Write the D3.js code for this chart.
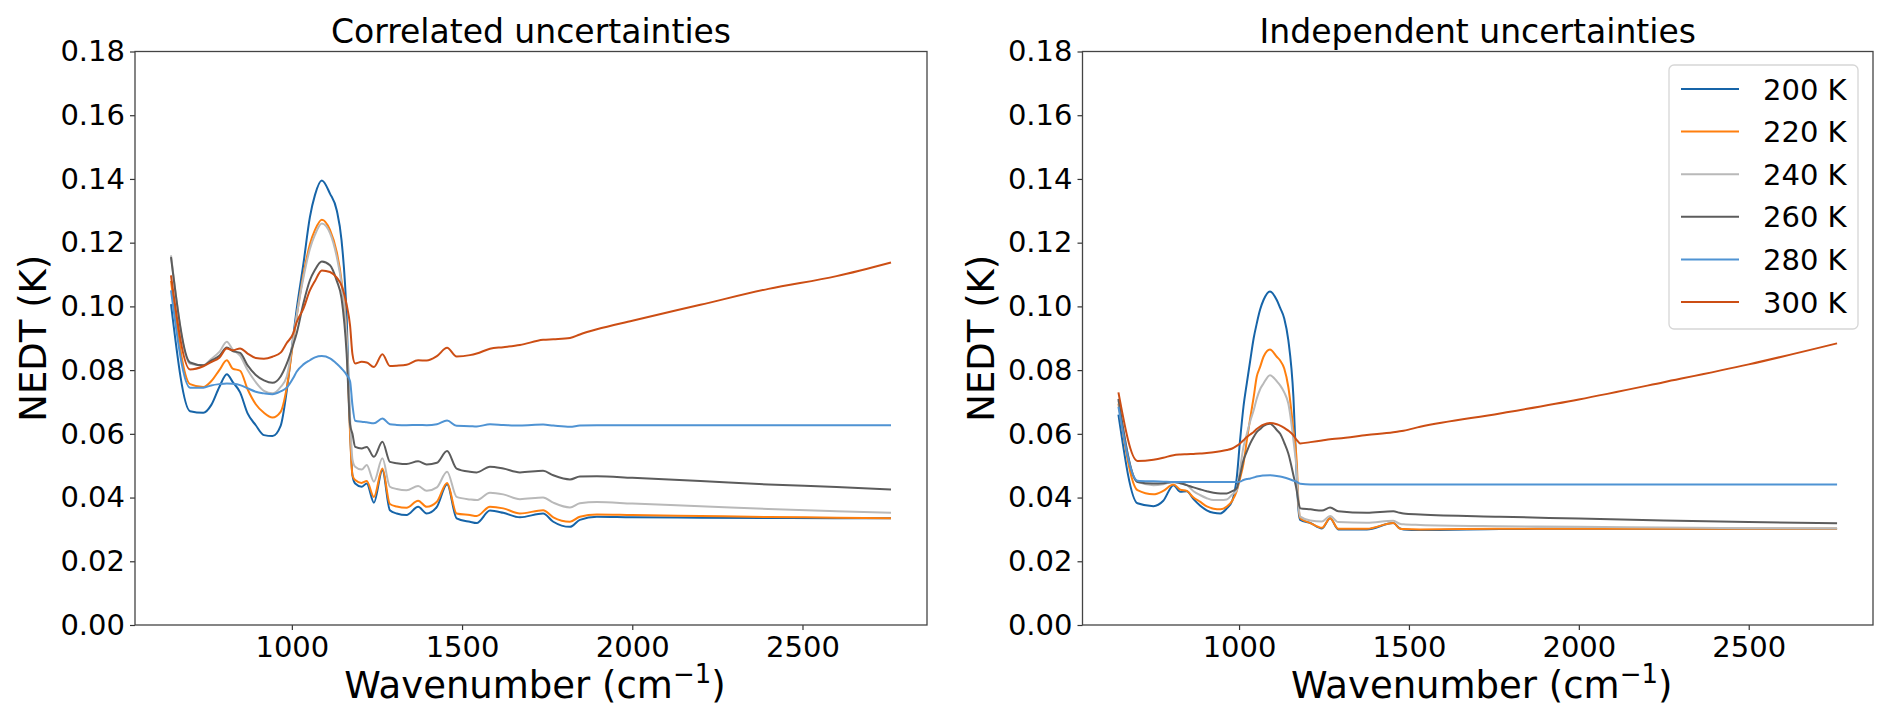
<!DOCTYPE html>
<html>
<head>
<meta charset="utf-8">
<script src="https://cdn.jsdelivr.net/npm/d3@7"></script>
<style>
  body { margin: 0; background: #fff; }
  svg { display: block; font-family: "DejaVu Sans", sans-serif; }
</style>
</head>
<body>
<svg id="chart" width="1892" height="722"></svg>
<script>
// temperatures shown in the legend
const temps = ["200 K", "220 K", "240 K", "260 K", "280 K", "300 K"];
const colors = ["#1664a8", "#ff7f0e", "#b9b9b9", "#5c5c5c", "#4f93d3", "#cc4e14"];

// wavenumber grid, correlated panel
const wnCorr = [645, 701, 740, 763, 787, 809, 826, 848, 870, 894, 918, 943, 967, 985, 1004, 1014, 1034, 1053, 1068, 1088,
  1112, 1132, 1146, 1161, 1171, 1178, 1186, 1205, 1220, 1241, 1266, 1288, 1308, 1337, 1371, 1396, 1426, 1456, 1484, 1523,
  1543, 1582, 1621, 1670, 1738, 1768, 1817, 1846, 1896, 2000, 2200, 2400, 2600, 2760];

const corr200 = [0.1007, 0.0671, 0.0666, 0.069, 0.0747, 0.0787, 0.0763, 0.073, 0.0664, 0.0627, 0.0596, 0.0593, 0.0625, 0.0735, 0.0905, 0.099, 0.1134, 0.128, 0.135, 0.1395,
  0.1354, 0.1301, 0.1207, 0.0967, 0.0612, 0.047, 0.0444, 0.0434, 0.0444, 0.0384, 0.0486, 0.036, 0.035, 0.0345, 0.0371, 0.035, 0.0371, 0.0442, 0.0335, 0.0324,
  0.032, 0.0359, 0.0352, 0.0338, 0.035, 0.0324, 0.0308, 0.033, 0.034, 0.0338, 0.0337, 0.0336, 0.0335, 0.0335];
const corr220 = [0.108, 0.0756, 0.0747, 0.0765, 0.08, 0.0831, 0.0805, 0.0798, 0.074, 0.0693, 0.0666, 0.0651, 0.0669, 0.0745, 0.089, 0.0967, 0.110, 0.1195, 0.124, 0.1272,
  0.124, 0.117, 0.108, 0.090, 0.060, 0.047, 0.0455, 0.0446, 0.0452, 0.0402, 0.0491, 0.038, 0.0372, 0.0368, 0.039, 0.0371, 0.0387, 0.0446, 0.035, 0.0345,
  0.0342, 0.0371, 0.0366, 0.035, 0.036, 0.0338, 0.0324, 0.034, 0.0347, 0.0345, 0.0342, 0.0339, 0.0337, 0.0335];
const corr240 = [0.116, 0.082, 0.0815, 0.0835, 0.0857, 0.0889, 0.0865, 0.0845, 0.080, 0.0762, 0.0735, 0.0727, 0.0747, 0.078, 0.090, 0.097, 0.109, 0.118, 0.1225, 0.126,
  0.123, 0.1155, 0.107, 0.090, 0.065, 0.052, 0.0497, 0.0488, 0.0502, 0.045, 0.0523, 0.0434, 0.0427, 0.0423, 0.0436, 0.0421, 0.0432, 0.0481, 0.0402, 0.0394,
  0.0392, 0.0415, 0.041, 0.0395, 0.040, 0.0384, 0.0369, 0.0382, 0.0386, 0.0381, 0.0373, 0.0364, 0.0357, 0.0352];
const corr260 = [0.1155, 0.0824, 0.0815, 0.083, 0.0845, 0.0871, 0.086, 0.0854, 0.0815, 0.0785, 0.0768, 0.076, 0.078, 0.082, 0.088, 0.0915, 0.101, 0.1082, 0.1115, 0.1141,
  0.1129, 0.108, 0.1025, 0.085, 0.063, 0.060, 0.0559, 0.0554, 0.0559, 0.0528, 0.0575, 0.0512, 0.0508, 0.0505, 0.0514, 0.0504, 0.0509, 0.0546, 0.0491, 0.0481,
  0.0479, 0.0497, 0.0491, 0.0479, 0.0484, 0.047, 0.0457, 0.0466, 0.0467, 0.0462, 0.0452, 0.0441, 0.0433, 0.0425];
const corr280 = [0.105, 0.0745, 0.0745, 0.0752, 0.0756, 0.0758, 0.0757, 0.0753, 0.0743, 0.0732, 0.0727, 0.0724, 0.0733, 0.0745, 0.0775, 0.0795, 0.0818, 0.0831, 0.084, 0.0844,
  0.0837, 0.082, 0.0805, 0.0785, 0.0765, 0.069, 0.0641, 0.0638, 0.0636, 0.0633, 0.0648, 0.063, 0.0628, 0.0627, 0.0628, 0.0627, 0.063, 0.0642, 0.0625, 0.0624,
  0.0623, 0.063, 0.0628, 0.0626, 0.0629, 0.0626, 0.0622, 0.0626, 0.0627, 0.0627, 0.0627, 0.0627, 0.0627, 0.0627];
const corr300 = [0.1097, 0.0802, 0.0812, 0.0825, 0.0839, 0.0868, 0.0862, 0.0868, 0.0852, 0.0838, 0.0836, 0.0842, 0.0855, 0.0885, 0.0915, 0.095, 0.0993, 0.105, 0.108, 0.1113,
  0.1108, 0.109, 0.1065, 0.1005, 0.094, 0.085, 0.0821, 0.0826, 0.0824, 0.081, 0.085, 0.0813, 0.0814, 0.0817, 0.0831, 0.083, 0.0844, 0.087, 0.0843, 0.0847,
  0.0852, 0.0867, 0.0872, 0.0879, 0.0895, 0.0897, 0.0901, 0.0912, 0.0928, 0.0955, 0.1005, 0.1055, 0.1095, 0.1138];

// wavenumber grid, independent panel
const wnInd = [645, 701, 748, 777, 807, 827, 846, 866, 885, 905, 925, 945, 964, 980, 993, 1003, 1013, 1023, 1033, 1043,
  1052, 1062, 1072, 1091, 1111, 1121, 1133, 1145, 1160, 1170, 1175, 1180, 1210, 1244, 1268, 1292, 1376, 1454, 1473, 1484,
  1533, 1768, 2000, 2250, 2500, 2760];

const ind200 = [0.066, 0.0382, 0.0373, 0.039, 0.0439, 0.0418, 0.042, 0.0395, 0.0375, 0.036, 0.0352, 0.035, 0.0366, 0.039, 0.046, 0.058, 0.0685, 0.076, 0.0831, 0.090,
  0.0946, 0.099, 0.102, 0.1047, 0.102, 0.0995, 0.0962, 0.0894, 0.0716, 0.046, 0.036, 0.033, 0.032, 0.0303, 0.0335, 0.030, 0.030, 0.032, 0.0303, 0.030,
  0.0298, 0.0301, 0.0302, 0.0302, 0.0302, 0.0302];
const ind220 = [0.0695, 0.0423, 0.041, 0.0421, 0.0441, 0.0425, 0.0421, 0.040, 0.0387, 0.0372, 0.0365, 0.0363, 0.0372, 0.039, 0.042, 0.046, 0.0507, 0.058, 0.065, 0.0715,
  0.0779, 0.081, 0.0842, 0.0865, 0.0842, 0.083, 0.0805, 0.0747, 0.0612, 0.0507, 0.038, 0.0335, 0.032, 0.0305, 0.0335, 0.0302, 0.0302, 0.032, 0.0303, 0.0301,
  0.030, 0.0302, 0.0302, 0.0302, 0.0302, 0.0302];
const ind240 = [0.0705, 0.0449, 0.0439, 0.0442, 0.0449, 0.0445, 0.0439, 0.042, 0.0408, 0.0398, 0.0392, 0.0392, 0.0394, 0.041, 0.0423, 0.049, 0.0559, 0.060, 0.064, 0.0674,
  0.071, 0.074, 0.0758, 0.0784, 0.0765, 0.0752, 0.073, 0.0695, 0.058, 0.0476, 0.038, 0.034, 0.0328, 0.0325, 0.0342, 0.0323, 0.0321, 0.0327, 0.0318, 0.0316,
  0.0314, 0.031, 0.0308, 0.0306, 0.0304, 0.0303];
const ind260 = [0.071, 0.0449, 0.0444, 0.0445, 0.0449, 0.0445, 0.0439, 0.0432, 0.0426, 0.042, 0.0415, 0.0413, 0.0413, 0.042, 0.0429, 0.047, 0.0517, 0.0545, 0.057, 0.059,
  0.0605, 0.0615, 0.0625, 0.0632, 0.0612, 0.060, 0.0572, 0.0538, 0.047, 0.042, 0.0385, 0.0366, 0.0363, 0.0359, 0.0369, 0.0357, 0.0352, 0.0357, 0.0352, 0.035,
  0.0347, 0.034, 0.0334, 0.0328, 0.0323, 0.0319];
const ind280 = [0.0685, 0.0453, 0.0451, 0.045, 0.0449, 0.0449, 0.0449, 0.0449, 0.0449, 0.0449, 0.0449, 0.0449, 0.0449, 0.0449, 0.0449, 0.045, 0.0455, 0.0458, 0.046, 0.0463,
  0.0466, 0.0468, 0.0469, 0.047, 0.0468, 0.0466, 0.0463, 0.0459, 0.0453, 0.0449, 0.0446, 0.0443, 0.0441, 0.0441, 0.0441, 0.0441, 0.0441, 0.0441, 0.0441, 0.0441,
  0.0441, 0.0441, 0.0441, 0.0441, 0.0441, 0.0441];
const ind300 = [0.073, 0.0515, 0.0519, 0.0525, 0.0533, 0.0535, 0.0536, 0.0537, 0.0538, 0.054, 0.0542, 0.0545, 0.0549, 0.0554, 0.0562, 0.057, 0.058, 0.059, 0.0598, 0.0606,
  0.0615, 0.0623, 0.0629, 0.0634, 0.063, 0.0626, 0.0619, 0.061, 0.0595, 0.058, 0.0574, 0.057, 0.0574, 0.0579, 0.0583, 0.0585, 0.0596, 0.0605, 0.0608, 0.061,
  0.0622, 0.0664, 0.0708, 0.0762, 0.0818, 0.0884];

const xTicks = [1000, 1500, 2000, 2500];
const yTicks = [0, 0.02, 0.04, 0.06, 0.08, 0.10, 0.12, 0.14, 0.16, 0.18];

const panels = [
    {title: "Correlated uncertainties", wn: wnCorr, series: [corr200, corr220, corr240, corr260, corr280, corr300], left: 135, right: 927, legend: false},
    {title: "Independent uncertainties", wn: wnInd, series: [ind200, ind220, ind240, ind260, ind280, ind300], left: 1082.5, right: 1873, legend: true}
];

const plotTop = 51.5, plotBottom = 625;
const svg = d3.select("#chart");

panels.forEach(function (p) {
    // matplotlib style 5% margin around the data range
    var span = 2760 - 645;
    var x = d3.scaleLinear()
        .domain([645 - 0.05 * span, 2760 + 0.05 * span])
        .range([p.left, p.right]);
    var y = d3.scaleLinear()
        .domain([0, 0.18])
        .range([plotBottom, plotTop]);

    var g = svg.append("g");

    // lines
    var line = d3.line()
        .x(function (d) { return x(d[0]); })
        .y(function (d) { return y(d[1]); })
        .curve(d3.curveMonotoneX);

    p.series.forEach(function (vals, i) {
        g.append("path")
            .datum(p.wn.map(function (w, j) { return [w, vals[j]]; }))
            .attr("fill", "none")
            .attr("stroke", colors[i])
            .attr("stroke-width", 2)
            .attr("stroke-linejoin", "round")
            .attr("d", line);
    });

    // x axis
    var xAxis = d3.axisBottom(x).tickValues(xTicks).tickFormat(d3.format("d")).tickSize(5).tickPadding(6).tickSizeOuter(0);
    var gx = g.append("g")
        .attr("transform", "translate(0," + plotBottom + ")")
        .call(xAxis);
    // y axis
    var yAxis = d3.axisLeft(y).tickValues(yTicks).tickFormat(d3.format(".2f")).tickSize(5).tickPadding(5).tickSizeOuter(0);
    var gy = g.append("g")
        .attr("transform", "translate(" + p.left + ",0)")
        .call(yAxis);

    [gx, gy].forEach(function (a) {
        a.select(".domain").remove();
        a.selectAll(".tick line").attr("stroke", "#333").attr("stroke-width", 1.2);
        a.selectAll(".tick text")
            .attr("fill", "#000")
            .style("font-family", "DejaVu Sans")
            .style("font-size", "29px");
    });

    // frame
    g.append("rect")
        .attr("x", p.left)
        .attr("y", plotTop)
        .attr("width", p.right - p.left)
        .attr("height", plotBottom - plotTop)
        .attr("fill", "none")
        .attr("stroke", "#444")
        .attr("stroke-width", 1.3);

    var cx = (p.left + p.right) / 2;

    // title
    g.append("text")
        .attr("x", cx)
        .attr("y", 43)
        .attr("text-anchor", "middle")
        .style("font-size", "33px")
        .text(p.title);

    // x label with superscript
    var xl = g.append("text")
        .attr("x", cx + 4)
        .attr("y", 698)
        .attr("text-anchor", "middle")
        .style("font-size", "37px");
    xl.append("tspan").text("Wavenumber (cm");
    xl.append("tspan").attr("dy", -15).style("font-size", "26px").text("\u22121");
    xl.append("tspan").attr("dy", 15).text(")");

    // y label
    g.append("text")
        .attr("transform", "translate(" + (p.left - 89) + "," + ((plotTop + plotBottom) / 2) + ") rotate(-90)")
        .attr("text-anchor", "middle")
        .style("font-size", "37px")
        .text("NEDT (K)");

    if (p.legend) {
        var lg = g.append("g");
        lg.append("rect")
            .attr("x", 1669)
            .attr("y", 65)
            .attr("width", 189)
            .attr("height", 264)
            .attr("rx", 5)
            .attr("fill", "#fff")
            .attr("stroke", "#d6d6d6")
            .attr("stroke-width", 1.3);
        temps.forEach(function (t, i) {
            var ry = 89 + i * 42.6;
            lg.append("line")
                .attr("x1", 1681).attr("x2", 1739)
                .attr("y1", ry).attr("y2", ry)
                .attr("stroke", colors[i])
                .attr("stroke-width", 2);
            lg.append("text")
                .attr("x", 1763)
                .attr("y", ry + 10.5)
                .style("font-size", "29px")
                .text(t);
        });
    }
});
</script>
</body>
</html>
